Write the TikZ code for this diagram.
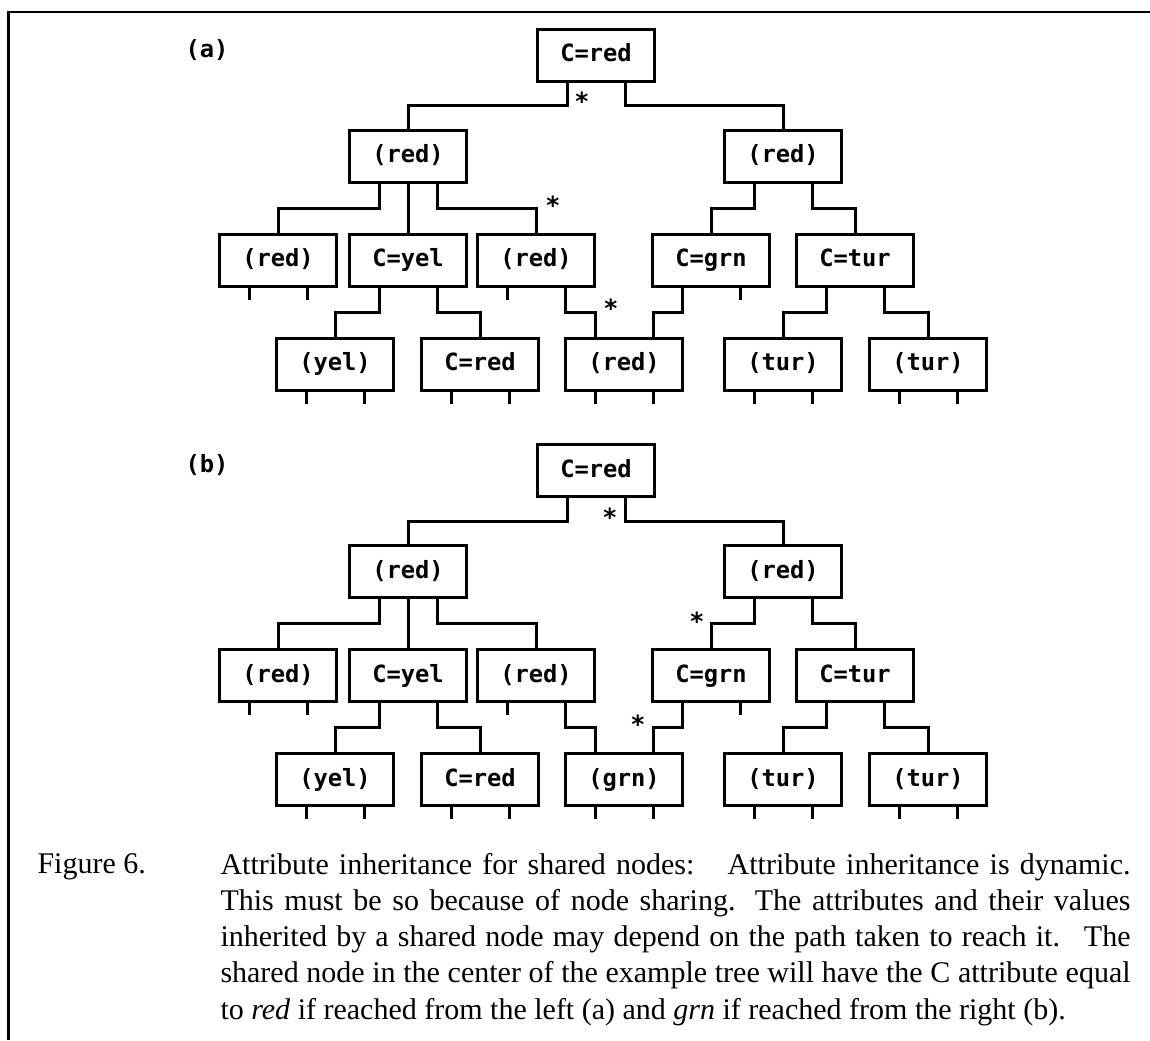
\documentclass[tikz,border=0pt]{standalone}
\usepackage{fontspec}
\setmainfont{Liberation Serif}
\newfontfamily\cellfont{DejaVu Sans Mono}
\usetikzlibrary{calc}

\tikzset{
  cell/.style={draw, line width=1.2pt, minimum width=46.8pt, minimum height=20.8pt, inner sep=0pt,
    text height=0.72em, text depth=0.2em, font=\cellfont\bfseries\fontsize{9.5}{11}\selectfont},
  tag/.style={inner sep=0pt, font=\cellfont\bfseries\fontsize{9.5}{11}\selectfont},
  starmark/.style={inner sep=0pt, yshift=-1.8pt, font=\cellfont\bfseries\fontsize{10}{11}\selectfont},
  wire/.style={line width=1.2pt},
  elbow/.style={to path={|- ($(\tikztostart)!.5!(\tikztotarget)$) -| (\tikztotarget)}},
  caption/.style={inner sep=0pt, font=\fontsize{12}{14.5}\selectfont},
}

\begin{document}
\begin{tikzpicture}[x=0.4pt,y=-0.4pt]
\useasboundingbox (0,0) rectangle (1150,1040);
\draw[line width=1pt] (8.5,1040) -- (8.5,12) -- (1150,12);
\foreach \t/\dy/\sh in {a/0/red,b/415.5/grn}{
\node[tag] (\t-tag) at (207,50+\dy) {(\t)};
\node[cell] (\t-root) at (596,55+\dy) {C=red};
\node[cell] (\t-l) at (408,156+\dy) {(red)};
\node[cell] (\t-r) at (783,156+\dy) {(red)};
\node[cell] (\t-ll) at (278,260+\dy) {(red)};
\node[cell] (\t-lm) at (408,260+\dy) {C=yel};
\node[cell] (\t-lr) at (536,260+\dy) {(red)};
\node[cell] (\t-rl) at (711,260+\dy) {C=grn};
\node[cell] (\t-rr) at (855,260+\dy) {C=tur};
\node[cell] (\t-lml) at (335,364+\dy) {(yel)};
\node[cell] (\t-lmr) at (480,364+\dy) {C=red};
\node[cell] (\t-sh) at (624,364+\dy) {(\sh)}; %shared node
\node[cell] (\t-rrl) at (783,364+\dy) {(tur)};
\node[cell] (\t-rrr) at (928,364+\dy) {(tur)};
\foreach \n in {root,l,r,ll,lm,lr,rl,rr,lml,lmr,sh,rrl,rrr}{
  \coordinate (\t-\n-pl) at ($(\t-\n.south)+(-29,0)$);
  \coordinate (\t-\n-pr) at ($(\t-\n.south)+(29,0)$);
}
\coordinate (\t-sh-tl) at ($(\t-sh.north)+(-29,0)$);
\coordinate (\t-sh-tr) at ($(\t-sh.north)+(29,0)$);
\draw[wire] (\t-root-pl) to[elbow] (\t-l.north);
\draw[wire] (\t-root-pr) to[elbow] (\t-r.north);
\draw[wire] (\t-l-pl) to[elbow] (\t-ll.north);
\draw[wire] (\t-l.south) -- (\t-lm.north);
\draw[wire] (\t-l-pr) to[elbow] (\t-lr.north);
\draw[wire] (\t-r-pl) to[elbow] (\t-rl.north);
\draw[wire] (\t-r-pr) to[elbow] (\t-rr.north);
\draw[wire] (\t-lm-pl) to[elbow] (\t-lml.north);
\draw[wire] (\t-lm-pr) to[elbow] (\t-lmr.north);
\draw[wire] (\t-lr-pr) to[elbow] (\t-sh-tl);
\draw[wire] (\t-rl-pl) to[elbow] (\t-sh-tr);
\draw[wire] (\t-rr-pl) to[elbow] (\t-rrl.north);
\draw[wire] (\t-rr-pr) to[elbow] (\t-rrr.north);
\foreach \p in {ll-pl,ll-pr,lr-pl,rl-pr,lml-pl,lml-pr,lmr-pl,lmr-pr,sh-pl,sh-pr,rrl-pl,rrl-pr,rrr-pl,rrr-pr}
  \draw[wire] (\t-\p) -- ++(0,12);
}
% stars on the path taken
\node[starmark] (a-s1) at (582,97) {*};
\node[starmark] (a-s2) at (553,201) {*};
\node[starmark] (a-s3) at (611,304) {*};
\node[starmark] (b-s1) at (610,513) {*};
\node[starmark] (b-s2) at (697,617) {*};
\node[starmark] (b-s3) at (638,720) {*};
\node[caption, anchor=base west] (fig) at (37,873) {Figure 6.};
\node[caption, anchor=north west, text width=364pt, align=justify] (cap) at (220,852.5)
  {Attribute inheritance for shared nodes:\hspace{0.6em} Attribute inheritance is dynamic.\linebreak
   This must be so because of node sharing. The attributes and their values\linebreak
   inherited by a shared node may depend on the path taken to reach it.\hspace{0.3em} The\linebreak
   shared node in the center of the example tree will have the C attribute equal\linebreak
   to \textit{red} if reached from the left (a) and \textit{grn} if reached from the right (b).};
\end{tikzpicture}
\end{document}
